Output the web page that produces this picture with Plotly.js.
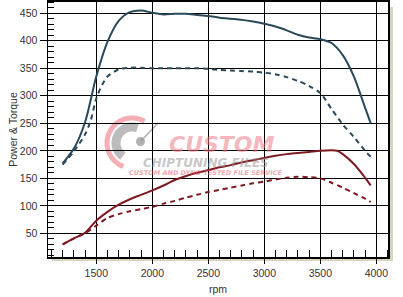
<!DOCTYPE html>
<html>
<head>
<meta charset="utf-8">
<script src="https://cdn.plot.ly/plotly-3.0.1.min.js"></script>
<style>
  html, body { margin: 0; padding: 0; background: #ffffff; }
  #chart { width: 403px; height: 297px; }
</style>
</head>
<body>
<div id="chart"></div>
<script>
// ---- Data ----
const torqueTunedRpm = [1200,1300,1400,1500,1600,1700,1800,1900,2000,2100,2200,2300,2400,2500,2600,2700,2800,2900,3000,3100,3200,3300,3400,3500,3600,3700,3800,3900,3950];
const torqueTuned    = [177,204,252,335,398,436,452,455,451,448,449,449,447,445,442,440,438,435,431,426,419,411,406,403,396,374,335,278,250];

const torqueStockRpm = [1200,1300,1400,1450,1500,1550,1600,1700,1800,1900,2000,2100,2200,2300,2400,2500,2600,2700,2800,2900,3000,3100,3200,3300,3400,3500,3600,3700,3800,3900,3950];
const torqueStock    = [175,199,230,255,295,319,335,348,351,351,350,350,350,350,350,349,347,346,345,344,342,339,334,327,318,305,276,248,225,200,189];

const powerTunedRpm = [1200,1300,1400,1500,1600,1700,1800,1900,2000,2100,2200,2300,2400,2500,2600,2700,2800,2900,3000,3100,3200,3300,3400,3500,3600,3650,3700,3800,3900,3950];
const powerTuned    = [30,41,51,73,89,102,112,120,128,137,147,154,160,165,170,174,179,183,187,191,194,196,198,200,201,200,194,176,151,137];

const powerStockRpm = [1200,1300,1400,1500,1600,1700,1800,1900,2000,2100,2200,2300,2400,2500,2600,2700,2800,2900,3000,3100,3200,3300,3400,3500,3600,3700,3800,3900,3950];
const powerStock    = [30,41,50,64,78,85,90,94,98,104,109,115,120,125,129,133,137,141,144,148,151,153,152,150,142,133,123,113,107];

const xTickVals = [1500,2000,2500,3000,3500,4000];
const yTickVals = [50,100,150,200,250,300,350,400,450];

// ---- Styling ----
const torqueColor = '#2a4859';
const powerColor  = '#7e1a22';
const W = 403, H = 297;
const M = {l: 48, r: 15, t: 2, b: 40};
const PX0 = M.l, PX1 = W - M.r, PY0 = M.t, PY1 = H - M.b;
const px = x => (x - PX0) / (PX1 - PX0);
const py = y => (PY1 - y) / (PY1 - PY0);

function line(x, y, color, dash) {
  return {x: x, y: y, type: 'scatter', mode: 'lines',
    line: {color: color, width: 2, dash: dash, shape: 'spline', smoothing: 0.8},
    hoverinfo: 'skip', showlegend: false};
}

const traces = [
  line(powerStockRpm, powerStock, powerColor, '5px,4px'),
  line(powerTunedRpm, powerTuned, powerColor, 'solid'),
  line(torqueStockRpm, torqueStock, torqueColor, '5px,4px'),
  line(torqueTunedRpm, torqueTuned, torqueColor, 'solid')
];

// gauge logo arcs (watermark)
function arc(cx, cy, r, a0, a1) {
  let d = '';
  const n = 30;
  for (let i = 0; i <= n; i++) {
    const a = (a0 + (a1 - a0) * i / n) * Math.PI / 180;
    const x = px(cx + r * Math.cos(a));
    const y = py(cy - r * Math.sin(a));
    d += (i === 0 ? 'M' : 'L') + x.toFixed(4) + ',' + y.toFixed(4);
  }
  return d;
}

const shapes = [
  // drop shadow right and bottom
  {type: 'rect', xref: 'paper', yref: 'paper', x0: px(PX1 + 1), x1: px(PX1 + 5), y0: py(PY1 + 4), y1: py(PY0 + 5),
   fillcolor: '#d7d4bf', line: {width: 0}, layer: 'below'},
  {type: 'rect', xref: 'paper', yref: 'paper', x0: px(PX0 + 4), x1: px(PX1 + 5), y0: py(PY1 + 4), y1: py(PY1 + 1),
   fillcolor: '#d7d4bf', line: {width: 0}, layer: 'below'},
  // logo gauge
  {type: 'path', xref: 'paper', yref: 'paper', path: arc(132, 143, 25, 60, 250),
   line: {color: 'rgba(240,140,150,0.7)', width: 5}, layer: 'below'},
  {type: 'path', xref: 'paper', yref: 'paper', path: arc(132, 143, 16, 70, 235),
   line: {color: 'rgba(160,160,160,0.7)', width: 9}, layer: 'below'},
  {type: 'circle', xref: 'paper', yref: 'paper', x0: px(136), x1: px(145), y0: py(146), y1: py(137),
   fillcolor: 'rgba(150,150,150,0.75)', line: {width: 0}, layer: 'below'},
  {type: 'line', xref: 'paper', yref: 'paper', x0: px(141), y0: py(141), x1: px(158), y1: py(123),
   line: {color: 'rgba(150,150,150,0.75)', width: 1.5}, layer: 'below'}
];

const annotations = [
  {xref: 'paper', yref: 'paper', x: px(222), y: py(144), text: 'CUSTOM', showarrow: false, borderpad: 0,
   font: {family: 'DejaVu Sans', size: 22, color: 'rgba(238,120,132,0.55)', weight: 700, style: 'italic'}},
  {xref: 'paper', yref: 'paper', x: px(206), y: py(163), text: 'CHIPTUNING FILES', showarrow: false, borderpad: 0,
   font: {family: 'DejaVu Sans', size: 12, color: 'rgba(150,150,150,0.55)', weight: 700, style: 'italic'}},
  {xref: 'paper', yref: 'paper', x: px(206), y: py(178), text: 'CUSTOM AND DYNO TESTED FILE SERVICE', showarrow: false, borderpad: 0,
   font: {family: 'DejaVu Sans', size: 6.5, color: 'rgba(225,90,100,0.55)', weight: 700, style: 'italic'}}
];

const tickFont = {family: 'Liberation Sans, Arial, sans-serif', size: 10.5, color: '#333333'};

const layout = {
  width: W, height: H,
  margin: M,
  paper_bgcolor: '#ffffff',
  plot_bgcolor: 'rgba(0,0,0,0)',
  showlegend: false,
  xaxis: {
    range: [1069, 4104],
    tickvals: xTickVals, ticktext: xTickVals.map(String),
    ticks: 'outside', ticklen: 5, tickcolor: '#000', tickwidth: 1,
    minor: {dtick: 100, ticks: 'inside', ticklen: 7, tickcolor: '#000', tickwidth: 1, showgrid: false},
    showgrid: true, gridcolor: '#000000', gridwidth: 1,
    showline: true, linecolor: '#000', linewidth: 2, mirror: true,
    zeroline: false, tickfont: tickFont,
    title: {text: 'rpm', font: tickFont, standoff: 8}
  },
  yaxis: {
    range: [7, 470.5],
    tickvals: yTickVals, ticktext: yTickVals.map(String),
    ticks: 'outside', ticklen: 7, tickcolor: '#000', tickwidth: 1,
    minor: {dtick: 10, ticks: 'inside', ticklen: 6, tickcolor: '#000', tickwidth: 1, showgrid: false},
    showgrid: true, gridcolor: '#000000', gridwidth: 1,
    showline: true, linecolor: '#000', linewidth: 1.5, mirror: true,
    zeroline: false, tickfont: tickFont,
    title: {text: 'Power &amp; Torque', font: tickFont, standoff: 0}
  },
  shapes: shapes,
  annotations: annotations
};

Plotly.newPlot('chart', traces, layout, {staticPlot: true, displayModeBar: false});
</script>
</body>
</html>
